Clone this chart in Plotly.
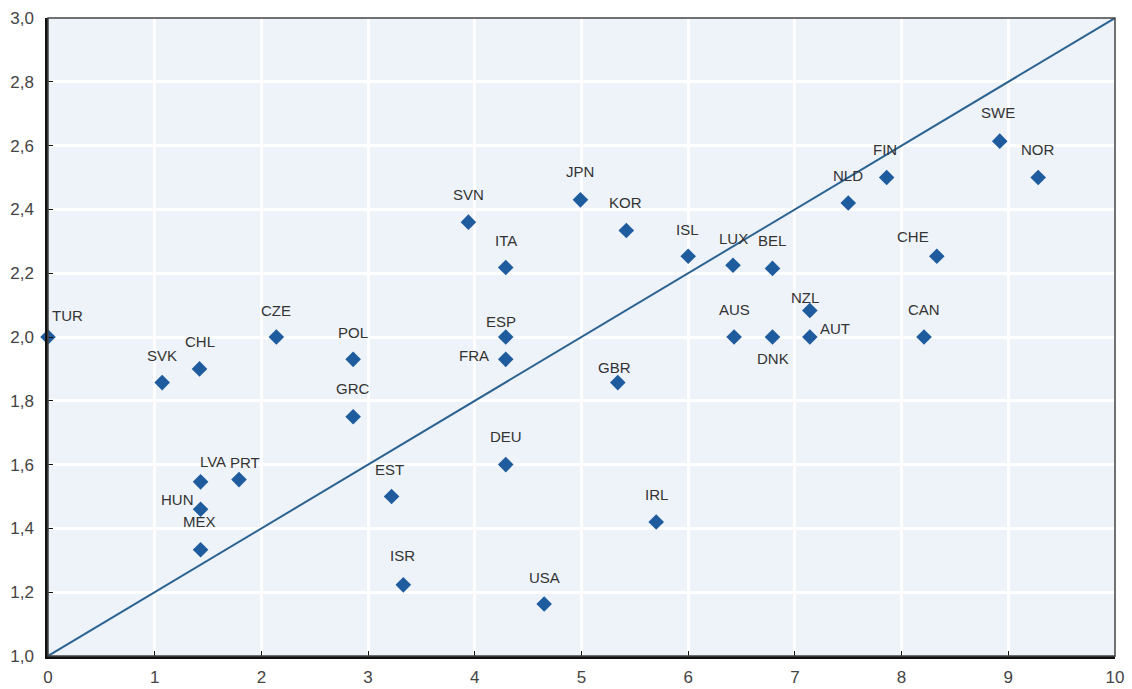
import plotly.graph_objects as go

countries = ["TUR", "SVK", "CHL", "CZE", "POL", "GRC", "LVA", "PRT", "HUN", "MEX",
             "SVN", "ITA", "ESP", "FRA", "DEU", "EST", "ISR", "USA", "JPN", "KOR",
             "GBR", "IRL", "ISL", "LUX", "BEL", "AUS", "DNK", "NZL", "AUT", "NLD",
             "FIN", "CHE", "CAN", "SWE", "NOR"]
x_vals = [0.0, 1.07, 1.42, 2.14, 2.86, 2.86, 1.43, 1.79, 1.43, 1.43,
          3.94, 4.29, 4.29, 4.29, 4.29, 3.22, 3.33, 4.65, 4.99, 5.42,
          5.34, 5.70, 6.00, 6.42, 6.79, 6.43, 6.79, 7.14, 7.14, 7.50,
          7.86, 8.33, 8.21, 8.92, 9.28]
y_vals = [2.00, 1.857, 1.90, 2.00, 1.93, 1.75, 1.546, 1.553, 1.46, 1.333,
          2.36, 2.218, 2.00, 1.93, 1.60, 1.50, 1.223, 1.163, 2.43, 2.334,
          1.857, 1.42, 2.253, 2.225, 2.215, 2.00, 2.00, 2.083, 2.00, 2.42,
          2.50, 2.253, 2.00, 2.614, 2.50]
line_x = [0, 10]
line_y = [1, 3]
x_ticks = list(range(0, 11))
y_ticks = [1.0, 1.2, 1.4, 1.6, 1.8, 2.0, 2.2, 2.4, 2.6, 2.8, 3.0]

# label offsets in pixels (dx right, dy down) relative to each marker
label_dx = [19, 0, 0, 0, 0, 0, 12, 6, -23, -1,
            0, 0, -5, -32, 0, -2, -1, 0, 0, -1,
            -3, 0, -1, 0, 0, 0, 1, -5, 25, 0,
            -2, -24, 0, -2, 0]
label_dy = [-22, -27, -27, -27, -27, -28, -20, -17, -10, -28,
            -28, -27, -16, -4, -28, -27, -29, -27, -28, -28,
            -15, -28, -27, -27, -28, -28, 21, -13, -9, -28,
            -28, -20, -28, -29, -28]

fig = go.Figure()
fig.add_trace(go.Scatter(x=line_x, y=line_y, mode="lines",
                         line=dict(color="#2D6391", width=2), hoverinfo="skip",
                         showlegend=False, cliponaxis=False))
fig.add_trace(go.Scatter(x=x_vals, y=y_vals, mode="markers", text=countries,
                         marker=dict(symbol="diamond", size=12, color="#1F5C9E"),
                         showlegend=False, cliponaxis=False))

annotations = []
for name, xv, yv, dx, dy in zip(countries, x_vals, y_vals, label_dx, label_dy):
    annotations.append(dict(x=xv, y=yv, xref="x", yref="y", text=name, showarrow=False,
                            xshift=dx, yshift=-dy, xanchor="center", yanchor="middle",
                            font=dict(family="Liberation Sans, Arial", size=15, color="#333333")))

fig.update_layout(
    width=1132, height=689,
    margin=dict(l=48, r=17, t=18, b=33),
    paper_bgcolor="white", plot_bgcolor="#EEF3FA",
    separators=",.",
    font=dict(family="Liberation Sans, Arial", size=17, color="#444444"),
    annotations=annotations,
    shapes=[dict(type="rect", xref="paper", yref="paper", x0=0, y0=0, x1=1, y1=1,
                 line=dict(color="#444444", width=1.5), layer="above")],
)
fig.update_xaxes(range=[0, 10], tickvals=x_ticks, showgrid=True, gridcolor="white", gridwidth=2.5,
                 zeroline=False, showline=True, linecolor="#111111", linewidth=2.5,
                 ticks="inside", ticklen=5, tickcolor="#111111", automargin=False,
                 ticklabelstandoff=4,
                 tickfont=dict(size=17, color="#444444"))
fig.update_yaxes(range=[1, 3], tickvals=y_ticks, tickformat=".1f", showgrid=True, gridcolor="white",
                 gridwidth=2.5, zeroline=False, showline=True, linecolor="#111111", linewidth=2.5,
                 ticks="inside", ticklen=5, tickcolor="#111111", automargin=False,
                 ticklabelstandoff=8,
                 tickfont=dict(size=17, color="#444444"))

fig.write_html("out.html", config={"displayModeBar": False},
               post_script="document.body.style.margin='0';document.body.style.overflow='hidden';")
